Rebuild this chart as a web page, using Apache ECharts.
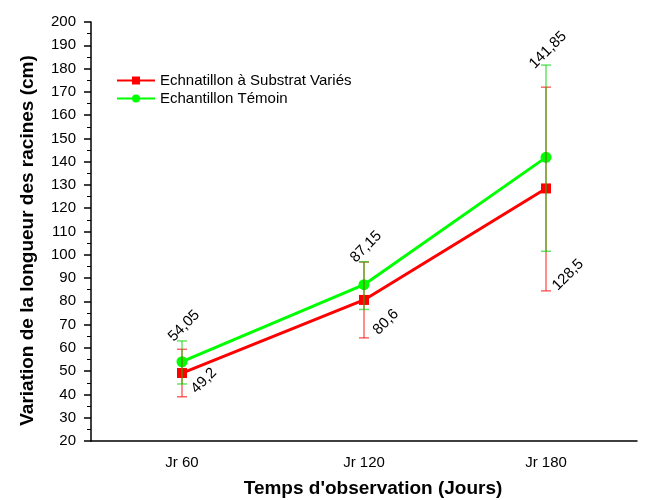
<!DOCTYPE html>
<html>
<head>
<meta charset="utf-8">
<script src="https://cdn.jsdelivr.net/npm/echarts@6/dist/echarts.min.js"></script>
<style>
  html, body { margin: 0; padding: 0; background: #fff; }
  #chart { width: 663px; height: 500px; }
</style>
</head>
<body>
<div id="chart"></div>
<script>
  // données
  const categories = ['Jr 60', 'Jr 120', 'Jr 180'];
  const substratMean = [49.2, 80.6, 128.5];
  const substratLow = [39, 64.3, 84.5];
  const substratHigh = [59.4, 96.9, 172];
  const substratLabels = ['49,2', '80,6', '128,5'];
  const temoinMean = [54.05, 87.15, 141.85];
  const temoinLow = [44.5, 76.5, 101.5];
  const temoinHigh = [63, 97, 181.5];
  const temoinLabels = ['54,05', '87,15', '141,85'];
  const yTicks = { min: 20, max: 200, step: 10 };

  const font = 'Liberation Sans, Arial, sans-serif';

  // barres d'erreur + étiquette tournée à 45°
  function errorRender(color, labelAtTop) {
    return function (params, api) {
      const i = api.value(0);
      const lo = api.coord([i, api.value(1)]);
      const hi = api.coord([i, api.value(2)]);
      const half = 5;
      const anchor = labelAtTop ? [hi[0] + 2, hi[1] - 15] : [lo[0] + 22, lo[1] - 16];
      return {
        type: 'group',
        children: [
          { type: 'line', shape: { x1: lo[0], y1: lo[1], x2: hi[0], y2: hi[1] }, style: { stroke: color, lineWidth: 1.5 } },
          { type: 'line', shape: { x1: lo[0] - half, y1: lo[1], x2: lo[0] + half, y2: lo[1] }, style: { stroke: color, lineWidth: 1.5 } },
          { type: 'line', shape: { x1: hi[0] - half, y1: hi[1], x2: hi[0] + half, y2: hi[1] }, style: { stroke: color, lineWidth: 1.5 } },
          {
            type: 'text', x: anchor[0], y: anchor[1], rotation: Math.PI / 4,
            style: { text: api.value(3), fontSize: 15, fontFamily: font, fill: '#000', align: 'center', verticalAlign: 'middle' }
          }
        ]
      };
    };
  }

  const chart = echarts.init(document.getElementById('chart'));
  chart.setOption({
    animation: false,
    grid: { left: 91, right: 26, top: 22, bottom: 59, containLabel: false, outerBoundsMode: 'none' },
    legend: {
      orient: 'vertical', left: 111, top: 68, itemGap: 3,
      itemWidth: 38, itemHeight: 10,
      textStyle: { fontSize: 15, fontFamily: font, color: '#000' },
      data: ['Echnatillon à Substrat Variés', 'Echantillon Témoin']
    },
    xAxis: [{
      type: 'category',
      data: categories,
      boundaryGap: true,
      name: "Temps d'observation (Jours)",
      nameLocation: 'middle',
      nameGap: 38,
      nameTextStyle: { fontSize: 19, fontWeight: 'bold', fontFamily: font, color: '#000', padding: [0, 0, 0, 18] },
      axisLine: { lineStyle: { color: '#000', width: 1.5 } },
      axisTick: { alignWithLabel: true, length: 7, lineStyle: { color: '#000', width: 1.5 } },
      axisLabel: { fontSize: 15, fontFamily: font, color: '#000', margin: 14 },
      splitLine: { show: false }
    }, {
      type: 'category',
      data: categories,
      boundaryGap: true,
      position: 'bottom',
      axisLine: { show: false },
      axisTick: { length: 4, lineStyle: { color: '#000', width: 1.5 } },
      axisLabel: { show: false },
      splitLine: { show: false }
    }],
    yAxis: {
      type: 'value',
      min: yTicks.min, max: yTicks.max, interval: yTicks.step,
      name: 'Variation de la longueur des racines (cm)',
      nameLocation: 'middle',
      nameGap: 54,
      nameTextStyle: { fontSize: 19, fontWeight: 'bold', fontFamily: font, color: '#000', padding: [0, 18, 0, 0] },
      axisLine: { show: true, lineStyle: { color: '#000', width: 1.5 } },
      axisTick: { show: true, length: 7, lineStyle: { color: '#000', width: 1.5 } },
      minorTick: { show: true, splitNumber: 2, length: 4, lineStyle: { color: '#000', width: 1 } },
      axisLabel: { fontSize: 15, fontFamily: font, color: '#000', margin: 15 },
      splitLine: { show: false }
    },
    series: [
      {
        name: 'Echnatillon à Substrat Variés',
        type: 'line',
        data: substratMean,
        color: '#ff0000',
        symbol: 'rect', symbolSize: 10,
        lineStyle: { width: 3, color: '#ff0000' },
        itemStyle: { color: '#ff0000' },
        z: 3
      },
      {
        name: 'Echantillon Témoin',
        type: 'line',
        data: temoinMean,
        color: '#00ff00',
        symbol: 'circle', symbolSize: 11,
        lineStyle: { width: 3, color: '#00ff00' },
        itemStyle: { color: '#00ff00' },
        z: 3
      },
      {
        type: 'custom',
        renderItem: errorRender('rgba(255,0,0,0.6)', false),
        data: categories.map((c, i) => [i, substratLow[i], substratHigh[i], substratLabels[i]]),
        z: 4
      },
      {
        type: 'custom',
        renderItem: errorRender('rgba(0,210,0,0.6)', true),
        data: categories.map((c, i) => [i, temoinLow[i], temoinHigh[i], temoinLabels[i]]),
        z: 5
      }
    ]
  });
</script>
</body>
</html>
